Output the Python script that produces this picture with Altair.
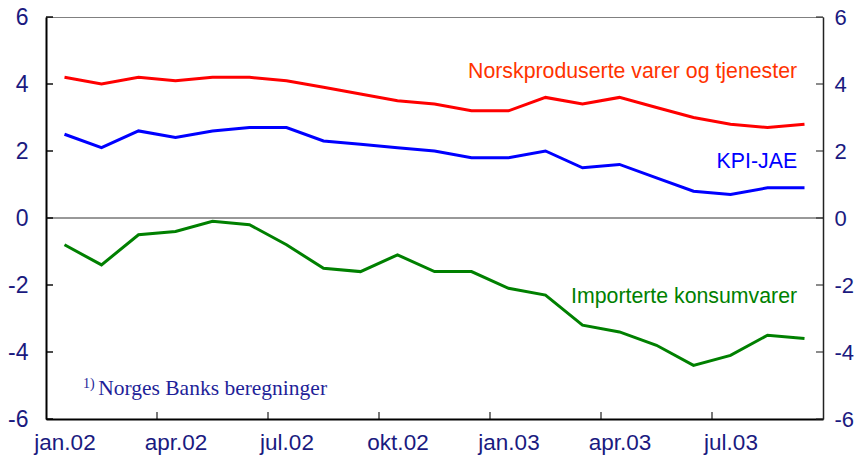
import altair as alt
import pandas as pd

months = ["jan.02", "feb.02", "mar.02", "apr.02", "mai.02", "jun.02", "jul.02",
          "aug.02", "sep.02", "okt.02", "nov.02", "des.02", "jan.03", "feb.03",
          "mar.03", "apr.03", "mai.03", "jun.03", "jul.03", "aug.03", "sep.03"]
norsk = [4.2, 4.0, 4.2, 4.1, 4.2, 4.2, 4.1, 3.9, 3.7, 3.5, 3.4, 3.2, 3.2, 3.6,
         3.4, 3.6, 3.3, 3.0, 2.8, 2.7, 2.8]
kpi = [2.5, 2.1, 2.6, 2.4, 2.6, 2.7, 2.7, 2.3, 2.2, 2.1, 2.0, 1.8, 1.8, 2.0,
       1.5, 1.6, 1.2, 0.8, 0.7, 0.9, 0.9]
import_ = [-0.8, -1.4, -0.5, -0.4, -0.1, -0.2, -0.8, -1.5, -1.6, -1.1, -1.6,
           -1.6, -2.1, -2.3, -3.2, -3.4, -3.8, -4.4, -4.1, -3.5, -3.6]
series_names = ["Norskproduserte varer og tjenester", "KPI-JAE", "Importerte konsumvarer"]
series_colors = ["#ff0000", "#0000ff", "#008000"]
text_colors = ["#ff3300", "#0000ff", "#008000"]
y_ticks = [-6, -4, -2, 0, 2, 4, 6]
label_idx = [0, 3, 6, 9, 12, 15, 18]
x_tick_pos = [2.5, 5.5, 8.5, 11.5, 14.5, 17.5]

W, H = 777, 402
NAVY = "#1a1a80"
FONT = "Liberation Sans"

rows = []
for name, vals in zip(series_names, [norsk, kpi, import_]):
    for i, v in enumerate(vals):
        rows.append({"idx": i, "month": months[i], "series": name, "value": v})
df = pd.DataFrame(rows)

label_arr = "[" + ",".join("'%s'" % months[i] for i in range(len(months))) + "]"

xscale = alt.Scale(domain=[-0.5, len(months) - 0.5], nice=False, zero=False)
yscale = alt.Scale(domain=[-6, 6], nice=False)

xaxis = alt.Axis(values=label_idx, labelExpr=label_arr + "[datum.value]",
                 ticks=False, grid=False, domainColor="black", domainWidth=2,
                 labelFont=FONT, labelFontSize=22.5, labelColor=NAVY,
                 labelPadding=12, labelBaseline="top", title=None, labelFlush=False)


def yaxis(orient, dcolor, dwidth, pad, size):
    return alt.Axis(values=y_ticks, orient=orient, ticks=False, grid=False,
                    domainColor=dcolor, domainWidth=dwidth, labelFont=FONT,
                    labelFontSize=size, labelColor=NAVY, labelPadding=pad,
                    labelExpr="'' + datum.value", title=None)


def X(field):
    return alt.X(field, scale=xscale, axis=xaxis)


lines = alt.Chart(df).mark_line(strokeWidth=3).encode(
    x=X("idx:Q"),
    y=alt.Y("value:Q", scale=yscale, axis=yaxis("left", "black", 2, 18, 23)),
    color=alt.Color("series:N", scale=alt.Scale(domain=series_names, range=series_colors),
                    legend=None),
    detail="series:N",
)

right_axis = alt.Chart(pd.DataFrame({"v": y_ticks})).mark_tick(
    orient="horizontal", size=7, thickness=1.5, color="#222"
).encode(
    x=alt.value(W - 3.5),
    y=alt.Y("v:Q", scale=yscale, axis=yaxis("right", "#222", 1.5, 11, 22)),
)

left_ticks = alt.Chart(pd.DataFrame({"v": y_ticks})).mark_tick(
    orient="horizontal", size=7, thickness=2, color="black"
).encode(x=alt.value(3.5), y=alt.Y("v:Q", scale=yscale, axis=None))

x_ticks = alt.Chart(pd.DataFrame({"t": x_tick_pos})).mark_tick(
    orient="vertical", size=7, thickness=1.5, color="black"
).encode(x=X("t:Q"), y=alt.value(H - 3.5))

zero = alt.Chart(pd.DataFrame({"z": [0]})).mark_rule(color="#333", strokeWidth=1).encode(
    y=alt.Y("z:Q", scale=yscale, axis=None)
)

lab = pd.DataFrame({
    "x": [19.8, 19.8, 19.8],
    "y": [4.18, 1.49, -2.53],
    "text": series_names,
    "c": text_colors,
})
labels = alt.Chart(lab).mark_text(align="right", baseline="alphabetic",
                                  font=FONT, fontSize=21.3).encode(
    x=X("x:Q"), y=alt.Y("y:Q", scale=yscale, axis=None),
    text="text:N", color=alt.Color("c:N", scale=None),
)

foot = alt.Chart(pd.DataFrame({"x": [0.91], "y": [-5.29], "t": ["Norges Banks beregninger"]})).mark_text(
    align="left", baseline="alphabetic", font="Liberation Serif", fontSize=21.5, color="#1f1f99"
).encode(x=X("x:Q"), y=alt.Y("y:Q", scale=yscale, axis=None), text="t:N")

sup = alt.Chart(pd.DataFrame({"x": [0.5], "y": [-5.08], "t": ["1)"]})).mark_text(
    align="left", baseline="alphabetic", font="Liberation Serif", fontSize=14, color="#1f1f99"
).encode(x=X("x:Q"), y=alt.Y("y:Q", scale=yscale, axis=None), text="t:N")

chart = alt.layer(lines, zero, left_ticks, x_ticks, labels, foot, sup, right_axis).resolve_axis(
    y="independent"
).properties(
    width=W, height=H,
    autosize=alt.AutoSizeParams(type="none"),
    padding={"left": 38, "top": 9, "right": 33, "bottom": 38},
    background="white",
).configure_view(stroke="#808080", strokeWidth=1)

chart.save("out.html", embed_options={"renderer": "svg", "actions": False})
